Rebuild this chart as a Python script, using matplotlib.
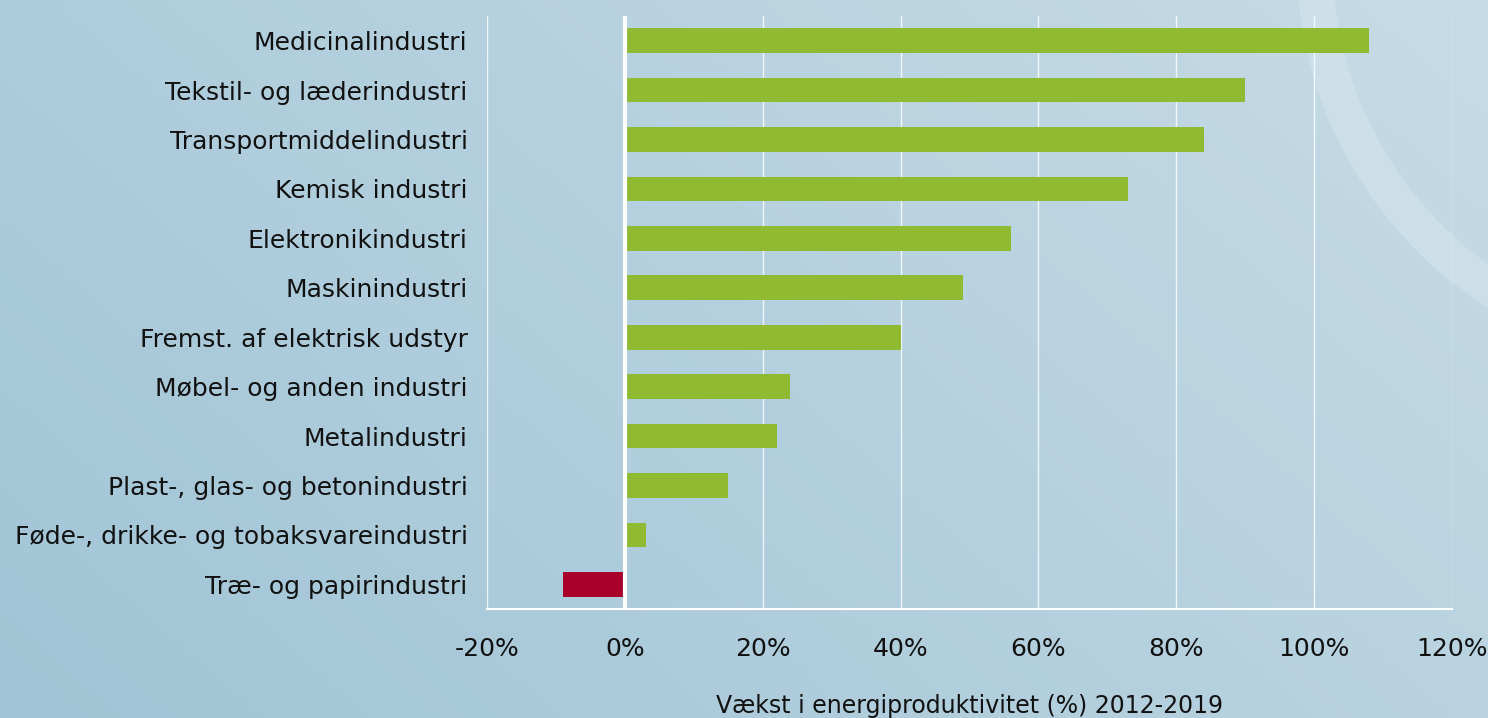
import numpy as np
import matplotlib.pyplot as plt
from matplotlib.patches import Arc

# data, top to bottom as shown
categories = [
    "Medicinalindustri",
    "Tekstil- og læderindustri",
    "Transportmiddelindustri",
    "Kemisk industri",
    "Elektronikindustri",
    "Maskinindustri",
    "Fremst. af elektrisk udstyr",
    "Møbel- og anden industri",
    "Metalindustri",
    "Plast-, glas- og betonindustri",
    "Føde-, drikke- og tobaksvareindustri",
    "Træ- og papirindustri",
]
growth = [108, 90, 84, 73, 56, 49, 40, 24, 22, 15, 3, -9]
xticks = [-20, 0, 20, 40, 60, 80, 100, 120]

green = "#8fba32"
red = "#a8002b"

plt.rcParams["font.family"] = ["DejaVu Sans"]

W, H = 1488, 718
fig = plt.figure(figsize=(W / 100, H / 100), dpi=100)

# background gradient + decorative arc
bg = fig.add_axes([0, 0, 1, 1], zorder=-10)
yy, xx = np.mgrid[0:1:200j, 0:1:300j]
t = np.clip(0.65 * xx + 0.35 * (1 - yy), 0, 1)
c0 = np.array([0.63, 0.77, 0.84])
c1 = np.array([0.78, 0.86, 0.90])
img = c0[None, None, :] * (1 - t[..., None]) + c1[None, None, :] * t[..., None]
bg.imshow(img, extent=[0, W, H, 0], aspect="auto")
bg.add_patch(Arc((1705, -38), 2 * 390, 2 * 390, color="white", alpha=0.18,
                 lw=26))
bg.set_xlim(0, W)
bg.set_ylim(H, 0)
bg.axis("off")

# main chart
ax = fig.add_axes([487 / W, 1 - 609 / H, (1452 - 487) / W, (609 - 16) / H])
ax.patch.set_alpha(0)
y = np.arange(len(categories))
colors = [green if v >= 0 else red for v in growth]
ax.barh(y, growth, height=0.5, color=colors, zorder=3)

ax.set_xlim(-20, 120)
ax.set_ylim(len(categories) - 0.5, -0.5)
ax.set_xticks(xticks)
ax.set_xticklabels([f"{v}%" for v in xticks], fontsize=18, color="#111111")
ax.set_yticks(y)
ax.set_yticklabels(categories, fontsize=18, color="#111111")
ax.tick_params(axis="both", length=0)
ax.tick_params(axis="x", pad=20)
ax.tick_params(axis="y", pad=14)

ax.grid(axis="x", color="white", lw=1, alpha=0.8, zorder=1)
ax.axvline(0, color="white", lw=3, zorder=4)
for s in ["top", "right", "left"]:
    ax.spines[s].set_visible(False)
ax.spines["bottom"].set_color("white")
ax.spines["bottom"].set_linewidth(1.5)

ax.set_xlabel("Vækst i energiproduktivitet (%) 2012-2019", fontsize=17,
              color="#111111", labelpad=24)

fig.savefig("out.png", dpi=100)
